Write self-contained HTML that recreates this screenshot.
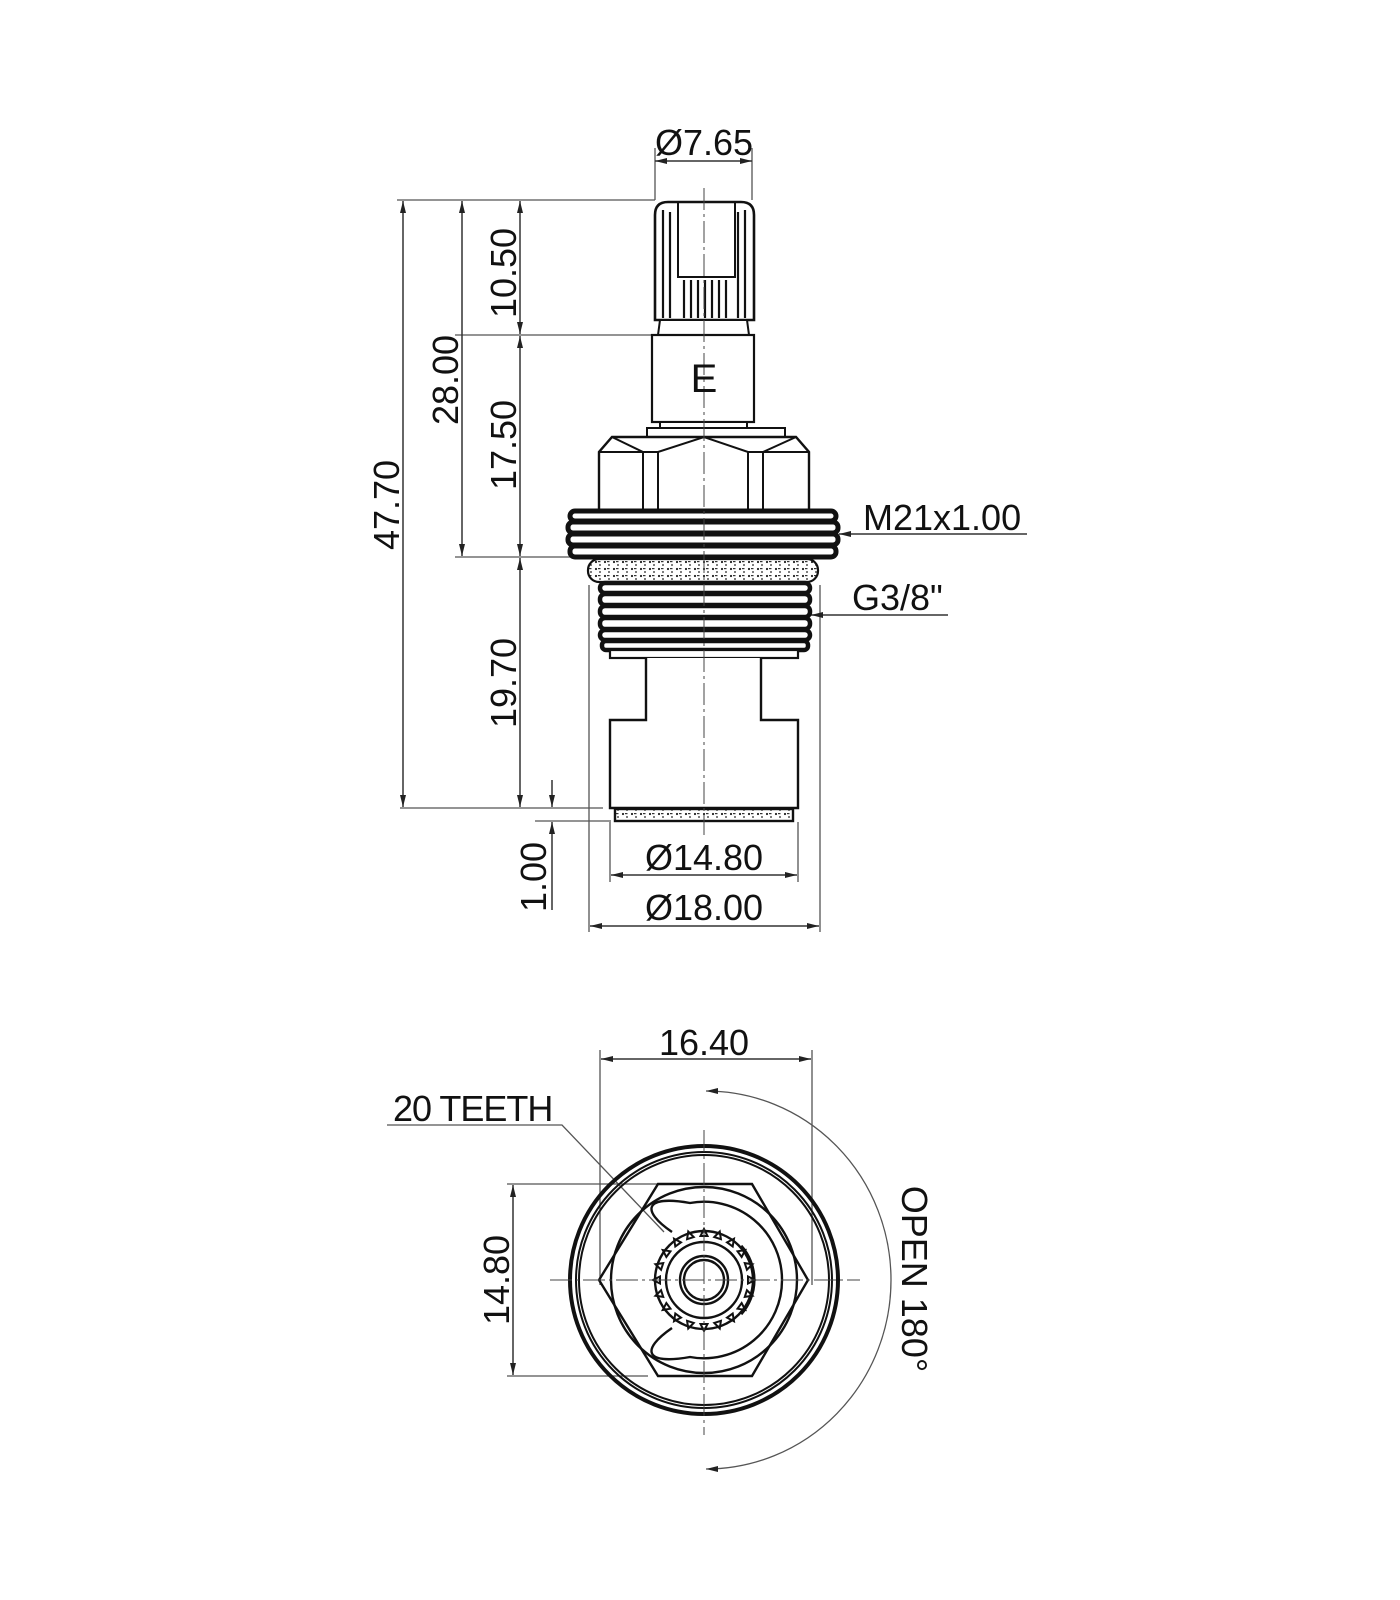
<!DOCTYPE html>
<html><head><meta charset="utf-8"><style>
html,body{margin:0;padding:0;background:#fff;}
svg{display:block;}
text{font-family:"Liberation Sans","DejaVu Sans",sans-serif;font-size:36px;fill:#111;}
</style></head><body>
<svg width="1400" height="1600" viewBox="0 0 1400 1600" xmlns="http://www.w3.org/2000/svg">
<defs>
<marker id="a" viewBox="0 0 12 6" refX="12" refY="3" markerWidth="12" markerHeight="6" orient="auto-start-reverse" markerUnits="userSpaceOnUse"><path d="M0,0 L12,3 L0,6 z" fill="#222"/></marker>
<pattern id="dots" width="9" height="7" patternUnits="userSpaceOnUse"><rect width="9" height="7" fill="#fff"/><circle cx="2" cy="2" r="1.1" fill="#222"/><circle cx="6" cy="5" r="0.9" fill="#222"/><rect x="4" y="1" width="2.5" height="1.2" fill="#333"/></pattern>
</defs>
<g stroke="#555" stroke-width="1.3" fill="none">
<line x1="397" y1="200" x2="655" y2="200"/>
<line x1="455" y1="335" x2="652" y2="335"/>
<line x1="455" y1="557" x2="590" y2="557"/>
<line x1="400" y1="808" x2="603" y2="808"/>
<line x1="535" y1="821" x2="611" y2="821"/>
<line x1="655" y1="148" x2="655" y2="200"/>
<line x1="752" y1="148" x2="752" y2="200"/>
<line x1="610" y1="822" x2="610" y2="882"/>
<line x1="798" y1="822" x2="798" y2="882"/>
<line x1="589" y1="585" x2="589" y2="932"/>
<line x1="820" y1="585" x2="820" y2="932"/>
</g>
<g stroke="#333" stroke-width="1.5" fill="none">
<line x1="655" y1="161" x2="752" y2="161" marker-start="url(#a)" marker-end="url(#a)"/>
<line x1="403" y1="201" x2="403" y2="807" marker-start="url(#a)" marker-end="url(#a)"/>
<line x1="462" y1="201" x2="462" y2="556" marker-start="url(#a)" marker-end="url(#a)"/>
<line x1="520" y1="201" x2="520" y2="334" marker-start="url(#a)" marker-end="url(#a)"/>
<line x1="520" y1="336" x2="520" y2="556" marker-start="url(#a)" marker-end="url(#a)"/>
<line x1="520" y1="558" x2="520" y2="807" marker-start="url(#a)" marker-end="url(#a)"/>
<line x1="552" y1="780" x2="552" y2="807" marker-end="url(#a)"/>
<line x1="552" y1="910" x2="552" y2="822" marker-end="url(#a)"/>
<line x1="611" y1="875" x2="797" y2="875" marker-start="url(#a)" marker-end="url(#a)"/>
<line x1="590" y1="926" x2="819" y2="926" marker-start="url(#a)" marker-end="url(#a)"/>
<line x1="1027" y1="534" x2="839" y2="534" marker-end="url(#a)"/>
<line x1="948" y1="615" x2="811" y2="615" marker-end="url(#a)"/>
</g>
<g stroke="#111" stroke-width="2.6" fill="#fff">
<path d="M655,320 L655,215 Q655,202 668,202 L741,202 Q754,202 754,215 L754,320 Z"/>
<path d="M678,202 L678,277 L735,277 L735,202" fill="none" stroke-width="2"/>
<g stroke-width="2.2"><line x1="663" y1="210" x2="663" y2="318"/><line x1="670" y1="212" x2="670" y2="318"/><line x1="745" y1="210" x2="745" y2="318"/><line x1="738" y1="212" x2="738" y2="318"/>
<line x1="684" y1="280" x2="684" y2="318"/><line x1="691" y1="280" x2="691" y2="318"/><line x1="698" y1="280" x2="698" y2="318"/><line x1="705" y1="280" x2="705" y2="318"/><line x1="712" y1="280" x2="712" y2="318"/><line x1="719" y1="280" x2="719" y2="318"/><line x1="726" y1="280" x2="726" y2="318"/></g>
<path d="M660,320 L747,320 L749,335 L658,335 Z" stroke-width="2"/>
<rect x="652" y="335" width="102" height="87" stroke-width="2.2"/>
<rect x="660" y="422" width="87" height="6" stroke-width="2"/>
<rect x="647" y="428" width="138" height="9" stroke-width="2"/>
<path d="M599,510 L599,452 L612,437 L796,437 L809,452 L809,510 Z" stroke-width="2.4"/>
<path d="M612,437 L643,452 L658,452 L704,437 L748,452 L763,452 L796,437 M599,452 L643,452 M763,452 L809,452" fill="none" stroke-width="2"/>
<g stroke-width="2"><line x1="643" y1="452" x2="643" y2="510"/><line x1="658" y1="452" x2="658" y2="510"/><line x1="748" y1="452" x2="748" y2="510"/><line x1="763" y1="452" x2="763" y2="510"/></g>
<g stroke-width="5">
<rect x="570" y="511" width="266" height="10" rx="5"/>
<rect x="568" y="522" width="270" height="11" rx="5"/>
<rect x="568" y="534" width="270" height="11" rx="5"/>
<rect x="570" y="546" width="266" height="11" rx="5"/>
</g>
<rect x="588" y="559" width="230" height="23" rx="11" fill="url(#dots)" stroke-width="2.2"/>
<g stroke-width="4.5">
<rect x="600" y="583" width="210" height="10" rx="5"/>
<rect x="600" y="594" width="210" height="11" rx="5"/>
<rect x="600" y="606" width="210" height="11" rx="5"/>
<rect x="600" y="618" width="210" height="11" rx="5"/>
<rect x="600" y="630" width="210" height="10" rx="5"/>
<rect x="602" y="641" width="206" height="9" rx="4"/>
</g>
<rect x="610" y="650" width="188" height="8" stroke-width="2.2"/>
<path d="M646,658 L646,720 L610,720 L610,808 L798,808 L798,720 L761,720 L761,658" stroke-width="2.4"/>
<rect x="615" y="809" width="178" height="12" fill="url(#dots)" stroke-width="2.4"/>
</g>
<line x1="704" y1="188" x2="704" y2="835" stroke="#444" stroke-width="1" stroke-dasharray="22,4,3,4"/>
<text x="704" y="392" text-anchor="middle" style="font-size:40px">E</text>
<text x="704" y="155" text-anchor="middle">Ø7.65</text>
<text x="863" y="530">M21x1.00</text>
<text x="852" y="610">G3/8"</text>
<text x="704" y="870" text-anchor="middle">Ø14.80</text>
<text x="704" y="920" text-anchor="middle">Ø18.00</text>
<text transform="translate(399,505) rotate(-90)" text-anchor="middle">47.70</text>
<text transform="translate(458,380) rotate(-90)" text-anchor="middle">28.00</text>
<text transform="translate(516,273) rotate(-90)" text-anchor="middle">10.50</text>
<text transform="translate(516,445) rotate(-90)" text-anchor="middle">17.50</text>
<text transform="translate(516,683) rotate(-90)" text-anchor="middle">19.70</text>
<text transform="translate(546,877) rotate(-90)" text-anchor="middle">1.00</text>

<g stroke="#555" stroke-width="1.3" fill="none">
<line x1="600" y1="1050" x2="600" y2="1285"/>
<line x1="812" y1="1050" x2="812" y2="1285"/>
<line x1="507" y1="1184" x2="752" y2="1184"/>
<line x1="507" y1="1376" x2="648" y2="1376"/>
<path d="M387,1125 L562,1125 L664,1232"/>
<path d="M706,1091 A185,189 0 0 1 706,1469"/>
</g>
<g stroke="#333" stroke-width="1.5" fill="none">
<line x1="601" y1="1059" x2="811" y2="1059" marker-start="url(#a)" marker-end="url(#a)"/>
<line x1="513" y1="1185" x2="513" y2="1375" marker-start="url(#a)" marker-end="url(#a)"/>
</g>
<path d="M706,1091 l12,-3 l0,6 z M706,1469 l12,-3 l0,6 z" fill="#222"/>
<g stroke="#111" stroke-width="2.4" fill="none">
<circle cx="704" cy="1280" r="134" stroke-width="4"/>
<circle cx="704" cy="1280" r="128" stroke-width="2"/>
<circle cx="704" cy="1280" r="125" stroke-width="2"/>
<path d="M658,1184 L752,1184 L808,1280 L752,1376 L658,1376 L599,1280 Z"/>
<circle cx="704" cy="1280" r="93"/>
<path d="M672,1232 C640,1210 645,1195 690,1203 A78,78 0 0 1 782,1280 A78,78 0 0 1 690,1357 C645,1365 640,1350 672,1328"/>
<circle cx="704" cy="1280" r="49"/>
<circle cx="704" cy="1280" r="38"/>
<circle cx="704" cy="1280" r="24"/>
<circle cx="704" cy="1280" r="20"/>
<path d="M741,1246 A51,51 0 0 1 741,1314" stroke-width="3.2"/>
</g>
<g fill="none" stroke="#111" stroke-width="2">
<path d="M704,1229 l-3.5,7 l7,0 z"/>
<path d="M704,1229 l-3.5,7 l7,0 z" transform="rotate(18 704 1280)"/>
<path d="M704,1229 l-3.5,7 l7,0 z" transform="rotate(36 704 1280)"/>
<path d="M704,1229 l-3.5,7 l7,0 z" transform="rotate(54 704 1280)"/>
<path d="M704,1229 l-3.5,7 l7,0 z" transform="rotate(72 704 1280)"/>
<path d="M704,1229 l-3.5,7 l7,0 z" transform="rotate(90 704 1280)"/>
<path d="M704,1229 l-3.5,7 l7,0 z" transform="rotate(108 704 1280)"/>
<path d="M704,1229 l-3.5,7 l7,0 z" transform="rotate(126 704 1280)"/>
<path d="M704,1229 l-3.5,7 l7,0 z" transform="rotate(144 704 1280)"/>
<path d="M704,1229 l-3.5,7 l7,0 z" transform="rotate(162 704 1280)"/>
<path d="M704,1229 l-3.5,7 l7,0 z" transform="rotate(180 704 1280)"/>
<path d="M704,1229 l-3.5,7 l7,0 z" transform="rotate(198 704 1280)"/>
<path d="M704,1229 l-3.5,7 l7,0 z" transform="rotate(216 704 1280)"/>
<path d="M704,1229 l-3.5,7 l7,0 z" transform="rotate(234 704 1280)"/>
<path d="M704,1229 l-3.5,7 l7,0 z" transform="rotate(252 704 1280)"/>
<path d="M704,1229 l-3.5,7 l7,0 z" transform="rotate(270 704 1280)"/>
<path d="M704,1229 l-3.5,7 l7,0 z" transform="rotate(288 704 1280)"/>
<path d="M704,1229 l-3.5,7 l7,0 z" transform="rotate(306 704 1280)"/>
<path d="M704,1229 l-3.5,7 l7,0 z" transform="rotate(324 704 1280)"/>
<path d="M704,1229 l-3.5,7 l7,0 z" transform="rotate(342 704 1280)"/>
</g>
<g stroke="#444" stroke-width="1" stroke-dasharray="22,4,3,4">
<line x1="550" y1="1280" x2="860" y2="1280"/>
<line x1="704" y1="1130" x2="704" y2="1435"/>
</g>
<text x="704" y="1055" text-anchor="middle">16.40</text>
<text x="393" y="1121" style="letter-spacing:-1px">20 TEETH</text>
<text transform="translate(509,1280) rotate(-90)" text-anchor="middle">14.80</text>
<text transform="translate(902,1279) rotate(90)" text-anchor="middle">OPEN 180°</text>
</svg>
</body></html>
